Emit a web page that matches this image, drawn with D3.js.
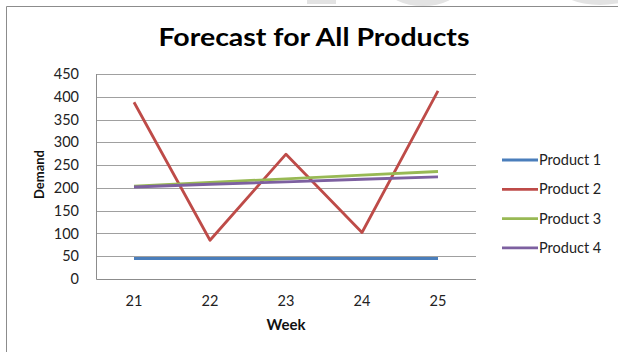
<!DOCTYPE html>
<html>
<head>
<meta charset="utf-8">
<script src="https://cdn.jsdelivr.net/npm/d3@7"></script>
<style>
  body { margin: 0; background: #fff; }
  text { font-family: Lato, "Open Sans", sans-serif; }
</style>
</head>
<body>
<div id="chart"></div>
<script>
var weeks = ["21", "22", "23", "24", "25"];
var seriesNames = ["Product 1", "Product 2", "Product 3", "Product 4"];
var product1 = [45, 45, 45, 45, 45];
var product2 = [388, 85, 274, 102, 413];
var product3 = [204, 212, 220, 228, 236];
var product4 = [202, 208, 213, 219, 224];
var yTicks = [0, 50, 100, 150, 200, 250, 300, 350, 400, 450];
var colours = ["#4a7ebb", "#be4b48", "#98b954", "#7d60a0"];

var width = 618, height = 352,
    margin = { top: 74, left: 96, right: 142, bottom: 73 };

var svg = d3.select("#chart").append("svg")
    .attr("width", width)
    .attr("height", height);

// faint watermark shapes peeking in at the top
svg.append("rect").attr("x", 307).attr("y", 0).attr("width", 29).attr("height", 4).attr("fill", "#e3e3e3");
svg.append("ellipse").attr("cx", 423).attr("cy", -12).attr("rx", 36).attr("ry", 18).attr("fill", "#e3e3e3");
svg.append("ellipse").attr("cx", 600).attr("cy", -14).attr("rx", 42).attr("ry", 19).attr("fill", "#e3e3e3");

// chart area border
svg.append("path")
    .attr("d", "M6.5," + height + "V6.5H" + width)
    .attr("fill", "none")
    .attr("stroke", "#8c8c8c");

var innerWidth = width - margin.left - margin.right;
var innerHeight = height - margin.top - margin.bottom;

// scales in page coordinates
var xScale = d3.scaleBand().domain(weeks).range([margin.left, margin.left + innerWidth]);
var yScale = d3.scaleLinear().domain([0, 450]).range([margin.top + innerHeight, margin.top]);

// gridlines
svg.selectAll(".grid")
  .data(yTicks.filter(function(d){ return d > 0; }))
  .enter().append("line")
    .attr("class", "grid")
    .attr("x1", margin.left)
    .attr("x2", margin.left + innerWidth)
    .attr("y1", function(d){ return Math.round(yScale(d)) + 0.5; })
    .attr("y2", function(d){ return Math.round(yScale(d)) + 0.5; })
    .attr("stroke", "#a0a0a0");

// axes lines
svg.append("path")
    .attr("d", "M" + (margin.left + 0.5) + "," + margin.top + "V" + (yScale(0) + 0.5) + "H" + (margin.left + innerWidth))
    .attr("fill", "none")
    .attr("stroke", "#8c8c8c");

// y tick labels
svg.selectAll(".ylab")
  .data(yTicks)
  .enter().append("text")
    .attr("class", "ylab")
    .attr("x", margin.left - 17)
    .attr("y", function(d){ return yScale(d); })
    .attr("dy", "0.35em")
    .attr("text-anchor", "end")
    .style("font-size", "14.5px")
    .attr("fill", "#222")
    .text(function(d){ return d; });

// x tick labels
svg.selectAll(".xlab")
  .data(weeks)
  .enter().append("text")
    .attr("class", "xlab")
    .attr("x", function(d){ return xScale(d) + xScale.bandwidth() / 2; })
    .attr("y", yScale(0) + 27)
    .attr("text-anchor", "middle")
    .style("font-size", "14.5px")
    .attr("fill", "#222")
    .text(function(d){ return d; });

// axis titles
svg.append("text")
    .attr("x", margin.left + innerWidth / 2)
    .attr("y", yScale(0) + 51)
    .attr("text-anchor", "middle")
    .style("font-size", "15px")
    .style("font-weight", "bold")
    .attr("fill", "#111")
    .text("Week");

svg.append("text")
    .attr("transform", "translate(44," + (yScale(225) - 2) + ") rotate(-90)")
    .attr("text-anchor", "middle")
    .style("font-size", "13px")
    .style("font-weight", "bold")
    .attr("fill", "#111")
    .text("Demand");

// title
svg.append("text")
    .attr("x", 314)
    .attr("y", 46)
    .attr("text-anchor", "middle")
    .attr("textLength", 311)
    .attr("lengthAdjust", "spacingAndGlyphs")
    .style("font-size", "24px")
    .style("font-weight", "bold")
    .attr("fill", "#000")
    .text("Forecast for All Products");

// lines
var allSeries = [product1, product2, product3, product4];
var line = d3.line()
    .x(function(d, i){ return xScale(weeks[i]) + xScale.bandwidth() / 2; })
    .y(function(d){ return yScale(d); });

svg.selectAll(".series")
  .data(allSeries)
  .enter().append("path")
    .attr("class", "series")
    .attr("fill", "none")
    .attr("stroke", function(d, i){ return colours[i]; })
    .attr("stroke-width", 2.8)
    .attr("stroke-linejoin", "round")
    .attr("d", line);

// legend
var legend = svg.append("g").attr("transform", "translate(502,160)");
var item = legend.selectAll("g")
  .data(seriesNames)
  .enter().append("g")
    .attr("transform", function(d, i){ return "translate(0," + (i * 29.3) + ")"; });
item.append("line")
    .attr("x1", 0).attr("x2", 36)
    .attr("stroke", function(d, i){ return colours[i]; })
    .attr("stroke-width", 2.8);
item.append("text")
    .attr("x", 37)
    .attr("dy", "0.35em")
    .style("font-size", "14.5px")
    .attr("fill", "#222")
    .text(function(d){ return d; });
</script>
</body>
</html>
